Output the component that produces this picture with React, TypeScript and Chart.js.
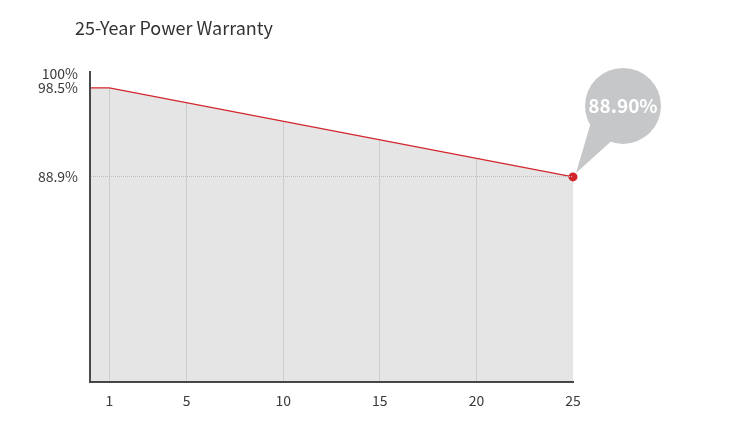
import { useEffect, useRef } from "react";
import { Chart, registerables } from "chart.js";

Chart.register(...registerables);

const years = [0, 1, 25];
const retention = [98.5, 98.5, 88.9];
const xTickValues = [1, 5, 10, 15, 20, 25];
const yTickValues = [88.9, 98.5, 100];

const FONT = "'Noto Sans CJK KR', 'Noto Sans', sans-serif";

// speech bubble with the final warranty value, hung off the last point
const bubblePlugin = {
    id: "bubble",
    afterDraw(chart: any) {
        const meta = chart.getDatasetMeta(0);
        const last = meta.data[meta.data.length - 1];
        if (!last) return;
        const ctx = chart.ctx;
        const x = last.x;
        const y = last.y;
        const cx = x + 50;
        const cy = y - 71;
        const r = 38;
        ctx.save();
        ctx.fillStyle = "#c5c7c9";
        ctx.beginPath();
        ctx.arc(cx, cy, r, 0, Math.PI * 2);
        ctx.fill();
        const a1 = (105 * Math.PI) / 180;
        const a2 = (148 * Math.PI) / 180;
        ctx.beginPath();
        ctx.moveTo(x + 3, y - 4);
        ctx.lineTo(cx + r * Math.cos(a1), cy + r * Math.sin(a1) - 3);
        ctx.lineTo(cx + r * Math.cos(a2), cy + r * Math.sin(a2) - 3);
        ctx.closePath();
        ctx.fill();
        ctx.fillStyle = "#ffffff";
        ctx.font = `bold 19px ${FONT}`;
        ctx.textAlign = "center";
        ctx.textBaseline = "middle";
        ctx.fillText(retention[retention.length - 1].toFixed(2) + "%", cx, cy);
        ctx.restore();
    },
};

const WarrantyChart = () => {
    const chartRef = useRef<HTMLCanvasElement | null>(null);
    const chartInstanceRef = useRef<Chart | null>(null);

    useEffect(() => {
        if (!chartRef.current) return;
        const ctx = chartRef.current.getContext("2d");
        if (!ctx) return;
        if (chartInstanceRef.current) chartInstanceRef.current.destroy();

        const points = years.map((yr, i) => ({ x: yr, y: retention[i] }));

        chartInstanceRef.current = new Chart(ctx, {
            type: "line",
            data: {
                datasets: [
                    {
                        data: points,
                        borderColor: "#d3262c",
                        borderWidth: 1.3,
                        backgroundColor: "rgba(0,0,0,0.1)",
                        fill: "start",
                        tension: 0,
                        pointRadius: points.map((_, i) => (i === points.length - 1 ? 4.5 : 0)),
                        pointBackgroundColor: "#d3262c",
                        pointBorderWidth: 0,
                        clip: false as any,
                    },
                    {
                        // white cover above the line hides the grid there
                        data: points,
                        borderWidth: 0,
                        backgroundColor: "#ffffff",
                        fill: "end",
                        pointRadius: 0,
                    },
                ],
            },
            options: {
                animation: false,
                responsive: false,
                devicePixelRatio: 1,
                layout: { padding: { left: 0, right: 177, top: 72, bottom: 22 } },
                plugins: {
                    legend: { display: false },
                    tooltip: { enabled: false },
                    title: { display: false },
                },
                scales: {
                    x: {
                        type: "linear",
                        min: 0,
                        max: 25,
                        afterBuildTicks: (scale: any) => {
                            scale.ticks = xTickValues.map((v) => ({ value: v }));
                        },
                        afterFit: (scale: any) => {
                            scale.height = 40;
                        },
                        grid: {
                            drawTicks: false,
                            color: (c: any) =>
                                c.tick && c.tick.value === 25 ? "rgba(0,0,0,0)" : "#e4e4e4",
                            lineWidth: 1,
                        },
                        border: { color: "#4a4a4a", width: 2 },
                        ticks: {
                            padding: 10,
                            color: "#3a3a3a",
                            font: { family: FONT, size: 14 },
                            maxRotation: 0,
                            autoSkip: false,
                        },
                    },
                    y: {
                        type: "linear",
                        min: 66.8,
                        max: 100.2,
                        afterBuildTicks: (scale: any) => {
                            scale.ticks = yTickValues.map((v) => ({ value: v }));
                        },
                        afterFit: (scale: any) => {
                            scale.width = 90;
                        },
                        grid: {
                            drawTicks: false,
                            color: (c: any) =>
                                c.tick && c.tick.value === 88.9 ? "#bdbdbd" : "rgba(0,0,0,0)",
                            lineWidth: 1,
                            z: 1,
                        },
                        border: { color: "#4a4a4a", width: 2, dash: [1, 1], z: 1 },
                        ticks: {
                            padding: 12,
                            color: "#3a3a3a",
                            font: { family: FONT, size: 14 },
                            autoSkip: false,
                            callback: (v: any) => v + "%",
                        },
                    },
                },
            } as any,
            plugins: [bubblePlugin],
        });

        return () => {
            if (chartInstanceRef.current) {
                chartInstanceRef.current.destroy();
                chartInstanceRef.current = null;
            }
        };
    }, []);

    return <canvas ref={chartRef} width={750} height={444} />;
};

export default function App() {
    return (
        <div style={{ position: "absolute", left: 0, top: 0, width: 750, height: 444, background: "#ffffff" }}>
            <div
                style={{
                    position: "absolute",
                    left: 75,
                    top: 14,
                    fontFamily: FONT,
                    fontSize: 18,
                    color: "#333333",
                    lineHeight: "26px",
                }}
            >
                25-Year Power Warranty
            </div>
            <WarrantyChart />
        </div>
    );
}
